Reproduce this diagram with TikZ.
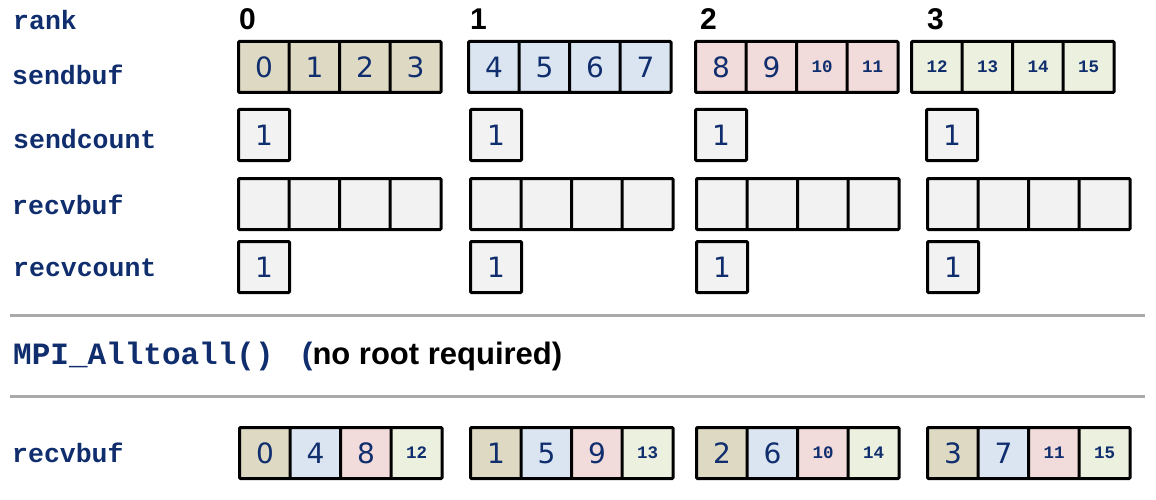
\documentclass[tikz,border=0pt]{standalone}
\usepackage{fontspec}
\setmainfont{Liberation Sans}
\newfontfamily\codefont{Liberation Mono}
\newfontfamily\digitfont{DejaVu Sans}
\definecolor{navy}{RGB}{16,46,110}
\definecolor{ctan}{RGB}{221,217,195}
\definecolor{cblue}{RGB}{219,229,241}
\definecolor{cpink}{RGB}{242,220,219}
\definecolor{cgreen}{RGB}{235,241,222}
\definecolor{cgray}{RGB}{242,242,242}
\definecolor{rulegray}{RGB}{170,170,170}
\newcommand{\smallnum}{\codefont\bfseries\fontsize{17.5}{17.5}\selectfont}
\newcommand{\cellnum}[1]{\ifnum#1>9 {\smallnum#1}\else#1\fi}
\tikzset{
  cell/.style={draw=black, line width=3pt, minimum width=51pt, minimum height=51pt,
    inner sep=0pt, outer sep=0pt, anchor=north west, text=navy, rounded corners=1pt,
    font=\digitfont\fontsize{28}{28}\selectfont},
  lbl/.style={anchor=base west, inner sep=0pt, text=navy,
    font=\codefont\bfseries\fontsize{26.5}{26.5}\selectfont},
  ranklbl/.style={anchor=base west, inner sep=0pt,
    font=\bfseries\fontsize{30}{30}\selectfont},
  sep/.style={draw=rulegray, line width=3pt}
}
\begin{document}
\begin{tikzpicture}[x=1pt,y=-1pt]
\useasboundingbox (0,0) rectangle (1156,500);
% row labels
\node[lbl] (lrank) at (13,30) {rank};
\node[lbl] (lsendbuf) at (12,85) {sendbuf};
\node[lbl] (lsendcount) at (13,149) {sendcount};
\node[lbl] (lrecvbuf) at (12,214) {recvbuf};
\node[lbl] (lrecvcount) at (13,276) {recvcount};
\node[lbl] (lrecvbufb) at (12,462) {recvbuf};
% rank numbers
\node[ranklbl] (r0) at (239,30) {0};
\node[ranklbl] (r1) at (470,30) {1};
\node[ranklbl] (r2) at (700,30) {2};
\node[ranklbl] (r3) at (927,30) {3};
% sendbuf
\foreach \r/\x/\f in {0/238.5/ctan,1/468.5/cblue,2/695.5/cpink,3/911.5/cgreen} {
  \foreach \c in {0,...,3} {
    \pgfmathtruncatemacro\v{4*\r+\c}
    \node[cell, fill=\f] (sb\r\c) at ({\x+50.5*\c},41.5) {\cellnum{\v}};
  }
}
% sendcount, recvbuf, recvcount
\foreach \r/\xa/\xb in {0/238.5/238.5,1/470.5/470.5,2/695.5/696.5,3/926.5/927.5} {
  \node[cell, fill=cgray] (sc\r) at (\xa,109.5) {1};
  \foreach \c in {0,...,3} {
    \node[cell, fill=cgray] (rb\r\c) at ({\xb+50.5*\c},178.5) {};
  }
  \node[cell, fill=cgray] (rc\r) at (\xb,241.5) {1};
}
% separators
\coordinate (s1a) at (10,315);
\coordinate (s1b) at (1145,315);
\coordinate (s2a) at (10,396);
\coordinate (s2b) at (1145,396);
\draw[sep] (s1a) -- (s1b);
\draw[sep] (s2a) -- (s2b);
% call
\node[anchor=base west, inner sep=0pt, text=navy,
  font=\codefont\bfseries\fontsize{31}{31}\selectfont] (call) at (13,364) {MPI\_Alltoall()};
\node[anchor=base west, inner sep=0pt, font=\bfseries\fontsize{31}{31}\selectfont]
  (note) at (302,364) {\textcolor{navy}{(}no root required)};
% result recvbuf
\foreach \r/\x in {0/239.5,1/470.5,2/696.5,3/927.5} {
  \foreach \c/\f in {0/ctan,1/cblue,2/cpink,3/cgreen} {
    \pgfmathtruncatemacro\v{4*\c+\r}
    \node[cell, fill=\f] (fb\r\c) at ({\x+50.5*\c},427.5) {\cellnum{\v}};
  }
}
\end{tikzpicture}
\end{document}
